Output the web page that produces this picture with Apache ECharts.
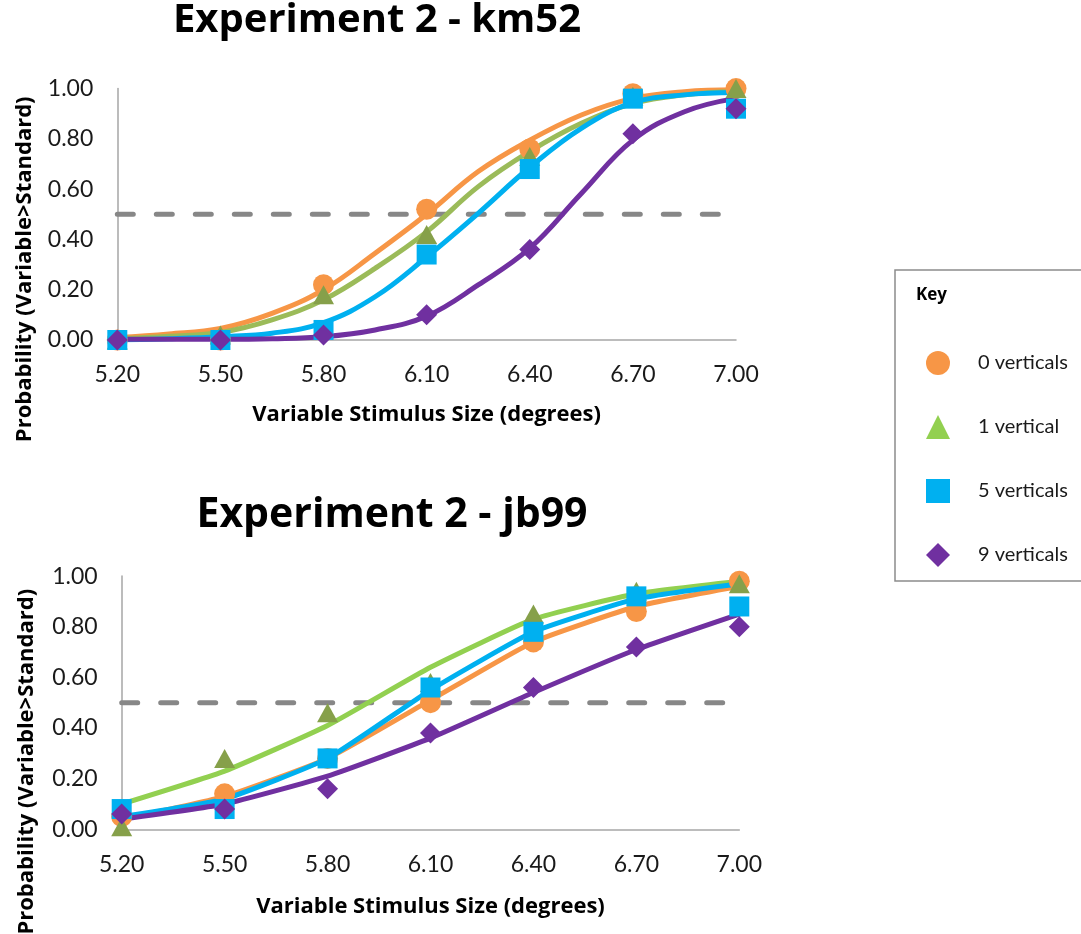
<!DOCTYPE html>
<html>
<head>
<meta charset="utf-8">
<script src="https://cdn.jsdelivr.net/npm/echarts@6/dist/echarts.min.js"></script>
<style>
  html, body { margin: 0; padding: 0; background: #ffffff; overflow: hidden; }
  #chart { width: 1081px; height: 934px; }
</style>
</head>
<body>
<div id="chart"></div>
<script>
// ---------- data ----------
var seriesNames = ['0 verticals', '1 vertical', '5 verticals', '9 verticals'];
var xValues = [5.20, 5.50, 5.80, 6.10, 6.40, 6.70, 7.00];
var xTickLabels = [5.20, 5.50, 5.80, 6.10, 6.40, 6.70, 7.00];
var thresholdX = [5.20, 7.00];
var thresholdY = [0.5, 0.5];

// Experiment 2 - km52 : observed proportions
var km52Obs0 = [0.00, 0.00, 0.22, 0.52, 0.76, 0.98, 1.00];
var km52Obs1 = [0.00, 0.02, 0.18, 0.42, 0.73, 0.97, 1.00];
var km52Obs5 = [0.00, 0.00, 0.04, 0.34, 0.68, 0.96, 0.92];
var km52Obs9 = [0.00, 0.00, 0.02, 0.10, 0.36, 0.82, 0.92];
// km52 fitted curves, read at finer x positions
var km52FitX = [5.20, 5.35, 5.50, 5.65, 5.80, 5.95, 6.10, 6.25, 6.40, 6.55, 6.70, 6.85, 7.00];
var km52Fit0 = [0.010, 0.024, 0.046, 0.106, 0.200, 0.345, 0.500, 0.670, 0.795, 0.895, 0.961, 0.988, 0.995];
var km52Fit1 = [0.005, 0.015, 0.030, 0.080, 0.160, 0.285, 0.430, 0.610, 0.750, 0.862, 0.940, 0.975, 0.988];
var km52Fit5 = [0.000, 0.005, 0.013, 0.027, 0.069, 0.172, 0.330, 0.504, 0.687, 0.842, 0.944, 0.975, 0.984];
var km52Fit9 = [0.003, 0.003, 0.003, 0.005, 0.013, 0.040, 0.095, 0.219, 0.365, 0.583, 0.795, 0.908, 0.961];

// Experiment 2 - jb99 : observed proportions
var jb99Obs0 = [0.05, 0.14, 0.28, 0.50, 0.74, 0.86, 0.98];
var jb99Obs1 = [0.01, 0.28, 0.46, 0.58, 0.85, 0.94, 0.97];
var jb99Obs5 = [0.08, 0.08, 0.28, 0.56, 0.78, 0.92, 0.88];
var jb99Obs9 = [0.06, 0.08, 0.16, 0.38, 0.56, 0.72, 0.80];
// jb99 fitted lines
var jb99Fit0 = [0.04, 0.13, 0.28, 0.51, 0.74, 0.88, 0.96];
var jb99Fit1 = [0.10, 0.23, 0.41, 0.64, 0.83, 0.93, 0.98];
var jb99Fit5 = [0.05, 0.12, 0.28, 0.55, 0.78, 0.91, 0.97];
var jb99Fit9 = [0.04, 0.10, 0.21, 0.36, 0.54, 0.71, 0.85];

// ---------- styling ----------
var FONT = 'Lato, "Open Sans", sans-serif';
var BOLD_FONT = '"Open Sans", Lato, sans-serif';
var markerColors = ['#F79646', '#86A04A', '#00B0F0', '#7030A0'];
var legendColors = ['#F79646', '#92D050', '#00B0F0', '#7030A0'];
var symbols = ['circle', 'triangle', 'rect', 'diamond'];
var symbolSizes = [21, [21, 19], 20, 21];
var AXIS_COLOR = '#A6A6A6';

function pairs(xs, ys) {
  return ys.map(function (y, i) { return [xs[i], y]; });
}

function makeAxes(gridIndex, labelMargin, nameGapX, nameGapY, namePad) {
  var x = {
    type: 'value', gridIndex: gridIndex, min: 5.2, max: 7.0,
    name: 'Variable Stimulus Size (degrees)', nameLocation: 'middle', nameGap: nameGapX,
    nameTextStyle: { fontFamily: BOLD_FONT, fontWeight: 'bold', fontSize: 22, color: '#000' },
    axisLine: { show: true, lineStyle: { color: AXIS_COLOR, width: 1.5 } },
    axisTick: { show: false, customValues: xTickLabels },
    splitLine: { show: false },
    axisLabel: {
      customValues: xTickLabels, margin: labelMargin,
      fontFamily: FONT, fontSize: 23, color: '#1a1a1a',
      formatter: function (v) { return Number(v).toFixed(2); }
    }
  };
  var y = {
    type: 'value', gridIndex: gridIndex, min: 0, max: 1, interval: 0.2,
    name: 'Probability (Variable>Standard)', nameLocation: 'middle', nameGap: nameGapY,
    nameTextStyle: { fontFamily: BOLD_FONT, fontWeight: 'bold', fontSize: 22, color: '#000', padding: namePad },
    axisLine: { show: true, lineStyle: { color: AXIS_COLOR, width: 1.5 } },
    axisTick: { show: false },
    splitLine: { show: false },
    axisLabel: {
      margin: 24, fontFamily: FONT, fontSize: 23, color: '#1a1a1a',
      formatter: function (v) { return Number(v).toFixed(2); }
    }
  };
  return { x: x, y: y };
}

var topAxes = makeAxes(0, 23, 64, 82, [0, 110, 0, 0]);
var botAxes = makeAxes(1, 24, 66, 84, [0, 118, 0, 0]);

function thresholdSeries(gridIndex) {
  return {
    type: 'line', xAxisIndex: gridIndex, yAxisIndex: gridIndex,
    data: pairs(thresholdX, thresholdY), showSymbol: false, silent: true,
    lineStyle: { color: '#878787', width: 5, type: [16, 23], cap: 'round' },
    z: 1
  };
}

function fitSeries(gridIndex, xs, ys, k, lineColor, smooth) {
  return {
    name: seriesNames[k], type: 'line', xAxisIndex: gridIndex, yAxisIndex: gridIndex,
    data: pairs(xs, ys), showSymbol: false, smooth: smooth, silent: true,
    lineStyle: { color: lineColor, width: 5, cap: 'round', join: 'round' },
    itemStyle: { color: lineColor },
    z: 2
  };
}

function obsSeries(gridIndex, ys, k) {
  return {
    name: seriesNames[k], type: 'scatter', xAxisIndex: gridIndex, yAxisIndex: gridIndex,
    data: pairs(xValues, ys), symbol: symbols[k], symbolSize: symbolSizes[k],
    itemStyle: { color: markerColors[k], opacity: 1 },
    clip: false,
    z: 2
  };
}

var topLineColors = ['#F79646', '#9BBB59', '#00B0F0', '#7030A0'];
var botLineColors = ['#F79646', '#92D050', '#00B0F0', '#7030A0'];

var series = [thresholdSeries(0), thresholdSeries(1)];
var km52Fits = [km52Fit0, km52Fit1, km52Fit5, km52Fit9];
var km52Obs = [km52Obs0, km52Obs1, km52Obs5, km52Obs9];
var jb99Fits = [jb99Fit0, jb99Fit1, jb99Fit5, jb99Fit9];
var jb99Obs = [jb99Obs0, jb99Obs1, jb99Obs5, jb99Obs9];
for (var k = 0; k < 4; k++) {
  series.push(fitSeries(0, km52FitX, km52Fits[k], k, topLineColors[k], 0.4));
  series.push(obsSeries(0, km52Obs[k], k));
}
for (var k2 = 0; k2 < 4; k2++) {
  series.push(fitSeries(1, xValues, jb99Fits[k2], k2, botLineColors[k2], 0.15));
  series.push(obsSeries(1, jb99Obs[k2], k2));
}

var chart = echarts.init(document.getElementById('chart'), null, { renderer: 'canvas' });
chart.setOption({
  animation: false,
  backgroundColor: '#ffffff',
  title: [
    { text: 'Experiment 2 - km52', left: 377, top: 1, textAlign: 'center', padding: 0,
      textStyle: { fontFamily: BOLD_FONT, fontWeight: 'bold', fontSize: 40, color: '#000' } },
    { text: 'Experiment 2 - jb99', left: 392, top: 495, textAlign: 'center', padding: 0,
      textStyle: { fontFamily: BOLD_FONT, fontWeight: 'bold', fontSize: 41, color: '#000' } },
    { text: 'Key', left: 916, top: 287, padding: 0,
      textStyle: { fontFamily: BOLD_FONT, fontWeight: 'bold', fontSize: 17, color: '#000' } }
  ],
  legend: {
    orient: 'vertical', left: 895, top: 270,
    padding: [81, 40, 14, 31],
    itemWidth: 24, itemHeight: 24, itemGap: 40,
    borderColor: '#8C8C8C', borderWidth: 1.5, borderRadius: 0,
    backgroundColor: '#ffffff',
    textStyle: { fontFamily: FONT, fontSize: 20, color: '#1a1a1a', padding: [0, 0, 0, 23] },
    data: seriesNames.map(function (n, i) {
      return { name: n, icon: symbols[i], itemStyle: { color: legendColors[i], borderWidth: 0 } };
    }),
    selectedMode: true
  },
  grid: [
    { left: 117.3, top: 88.6, width: 618.7, height: 251.4, containLabel: false, outerBoundsMode: 'none' },
    { left: 121.7, top: 576.1, width: 617.6, height: 253.2, containLabel: false, outerBoundsMode: 'none' }
  ],
  xAxis: [topAxes.x, botAxes.x],
  yAxis: [topAxes.y, botAxes.y],
  series: series
});
</script>
</body>
</html>
